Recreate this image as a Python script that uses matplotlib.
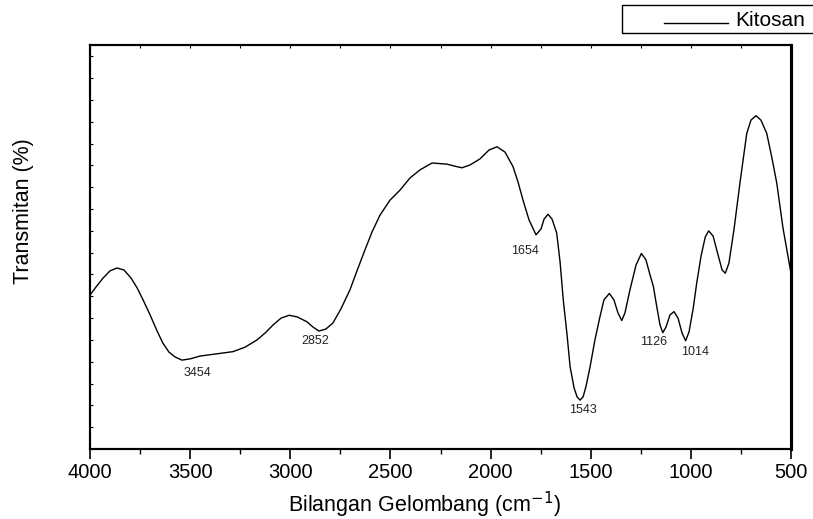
import matplotlib
matplotlib.use("Agg")
import matplotlib.pyplot as plt
from matplotlib.patches import Rectangle
from matplotlib.lines import Line2D
from matplotlib.ticker import MultipleLocator

plt.rcParams['font.family'] = ['Liberation Sans', 'DejaVu Sans']

# FTIR spectrum of kitosan
wavenumber = [4000, 3970, 3935, 3900, 3865, 3830, 3795, 3765, 3735, 3700,
              3665, 3636, 3606, 3576, 3541, 3501, 3451, 3376, 3286, 3226,
              3166, 3126, 3086, 3046, 3006, 2966, 2917, 2887, 2857, 2822,
              2787, 2747, 2702, 2667, 2627, 2592, 2552, 2502, 2452, 2402,
              2352, 2292, 2217, 2178, 2143, 2103, 2053, 2008, 1968, 1928,
              1888, 1863, 1838, 1808, 1773, 1748, 1733, 1713, 1693, 1670,
              1653, 1637, 1618, 1603, 1583, 1568, 1553, 1538, 1523, 1503,
              1479, 1454, 1434, 1407, 1384, 1364, 1345, 1329, 1304, 1274,
              1247, 1224, 1204, 1187, 1169, 1154, 1140, 1124, 1104, 1084,
              1064, 1044, 1026, 1009, 988, 971, 949, 928, 911, 889,
              864, 844, 828, 810, 785, 755, 721, 700, 675, 650,
              621, 595, 571, 540, 500]
transmitan = [38.1, 40.1, 42.3, 44.1, 44.8, 44.3, 42.3, 39.9, 36.9, 33.2,
              29.2, 26.2, 24.0, 22.8, 22.0, 22.3, 23.0, 23.5, 24.1, 25.2,
              27.0, 28.7, 30.7, 32.4, 33.1, 32.7, 31.5, 30.2, 29.2, 29.7,
              31.2, 34.7, 39.4, 44.1, 49.3, 53.7, 57.9, 61.6, 64.1, 67.1,
              69.1, 70.8, 70.5, 70.0, 69.6, 70.3, 71.8, 74.0, 74.8, 73.5,
              69.9, 66.1, 61.6, 56.7, 53.0, 54.5, 56.9, 58.1, 56.9, 53.5,
              46.3, 36.9, 28.2, 20.4, 15.1, 12.9, 12.1, 12.9, 15.6, 20.4,
              27.0, 32.7, 36.9, 38.5, 36.9, 33.7, 31.8, 33.7, 39.4, 45.5,
              48.4, 46.8, 43.1, 40.2, 34.9, 30.7, 28.8, 30.2, 33.2, 34.0,
              32.4, 28.7, 26.8, 29.0, 34.9, 41.0, 47.8, 52.5, 54.0, 52.7,
              48.0, 44.3, 43.5, 46.0, 54.2, 65.8, 78.1, 81.4, 82.5, 81.4,
              78.1, 72.0, 65.8, 54.7, 43.5]

# peak labels
peak_labels = ['3454', '2852', '1654', '1543', '1126', '1014']
peak_x = [3463, 2874, 1828, 1540, 1187, 979]
peak_y = [18.9, 26.8, 49.1, 9.65, 26.4, 24.1]

W, H = 813, 519
fig = plt.figure(figsize=(W / 100, H / 100), dpi=100)
ax = fig.add_axes([90 / W, 1 - 449 / H, 701 / W, 404 / H])

ax.plot(wavenumber, transmitan, color='black', lw=1.0, solid_joinstyle='round')

for lab, x, y in zip(peak_labels, peak_x, peak_y):
    ax.text(x, y, lab, fontsize=9, ha='center', va='center', color='#222222')

ax.set_xlim(4000, 500)
ax.set_ylim(0, 100)
ax.xaxis.set_major_locator(MultipleLocator(500))
ax.xaxis.set_minor_locator(MultipleLocator(250))
ax.tick_params(axis='x', which='major', direction='out', length=7, width=1.2,
               labelsize=14.5, pad=3, top=False)
ax.tick_params(axis='x', which='minor', direction='out', length=3.5, width=1.0, top=False)
ax.yaxis.set_major_locator(MultipleLocator(5.4))
ax.tick_params(axis='y', which='major', direction='in', length=2, width=0.8,
               labelleft=False)

# tiny inward ticks on the top edge
ax2 = ax.twiny()
ax2.set_xlim(ax.get_xlim())
ax2.xaxis.set_major_locator(MultipleLocator(250))
ax2.tick_params(axis='x', direction='in', length=2, width=0.8, labeltop=False)

for a in (ax, ax2):
    for s in a.spines.values():
        s.set_linewidth(1.5)
    a.spines['right'].set_linewidth(2.2)

# axis titles, placed where they sit in the picture
fig.text(425 / W, 1 - 505 / H, 'Bilangan Gelombang (cm$^{-1}$)', fontsize=15.5,
         ha='center', va='center')
fig.text(23 / W, 1 - 211 / H, 'Transmitan (%)', fontsize=15.5, rotation=90,
         ha='center', va='center')

# legend box, partly off the right edge
fig.add_artist(Rectangle((622 / W, 1 - 33 / H), 250 / W, 28 / H,
                         transform=fig.transFigure, fill=False,
                         edgecolor='black', lw=1.0))
fig.add_artist(Line2D([664 / W, 728 / W], [1 - 22.5 / H, 1 - 22.5 / H],
                      transform=fig.transFigure, color='black', lw=1.0))
fig.text(735 / W, 1 - 21 / H, 'Kitosan', fontsize=15, va='center', ha='left')

fig.savefig('out.png', dpi=100)
